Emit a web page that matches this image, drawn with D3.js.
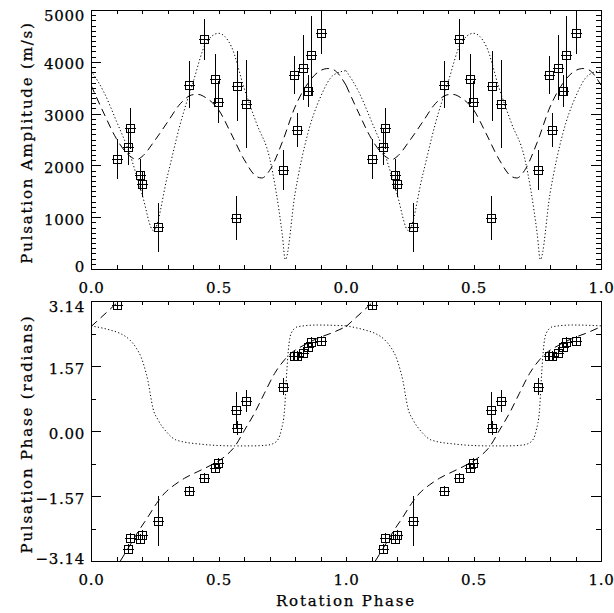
<!DOCTYPE html>
<html>
<head>
<meta charset="utf-8">
<script src="https://cdn.jsdelivr.net/npm/d3@7"></script>
<style>
  body { margin: 0; background: #fff; }
  svg { display: block; }
  text { font-family: "DejaVu Serif", serif; fill: #000; stroke: #000; stroke-width: 0.25px; }
  .tick text { font-size: 15px; letter-spacing: 0.7px; }
  .title { font-size: 15px; letter-spacing: 1.8px; }
  .domain, .tick line { stroke: #000; stroke-width: 1; }
</style>
</head>
<body>
<div id="chart"></div>
<script>
width = 614;
height = 613;

// observations over one rotation (plotted twice, phase and phase + 1)
var obsPhase = [0.100, 0.146, 0.152, 0.194, 0.200, 0.263, 0.386, 0.443, 0.486, 0.499,
                0.571, 0.567, 0.607, 0.751, 0.796, 0.806, 0.830, 0.850, 0.863, 0.902];
var ampObs = [2126, 2364, 2719, 1816, 1641, 808, 3560, 4438, 3663, 3223,
              3533, 988, 3184, 1913, 3746, 2688, 3882, 3430, 4122, 4548];
var ampErr = [382, 350, 395, 300, 260, 475, 455, 397, 484, 400,
              668, 430, 853, 390, 360, 330, 627, 310, 760, 394];
var phaseObs = [3.04, -2.85, -2.59, -2.62, -2.51, -2.17, -1.46, -1.13, -0.89, -0.77,
                0.07, 0.51, 0.73, 1.07, 1.82, 1.82, 1.88, 2.04, 2.15, 2.18];
var phaseErr = [0.06, 0.08, 0.06, 0.08, 0.08, 0.61, 0.08, 0.06, 0.08, 0.08,
                0.16, 0.44, 0.27, 0.20, 0.06, 0.06, 0.08, 0.06, 0.10, 0.06];

// model curves (dotted and dashed)
var ampDotPhase = [0, 0.05, 0.10, 0.15, 0.20, 0.245, 0.30, 0.35, 0.40, 0.45, 0.50,
                   0.55, 0.60, 0.65, 0.70, 0.75, 0.762, 0.80, 0.85, 0.90, 0.95, 1.0];
var ampDot = [3830, 3420, 2850, 2250, 1450, 740, 1800, 2800, 3600, 4350, 4550,
              4300, 3500, 2800, 2150, 670, 180, 1450, 2610, 3320, 3740, 3830];
var ampDashPhase = [0, 0.05, 0.10, 0.15, 0.18, 0.20, 0.25, 0.30, 0.35, 0.40, 0.42, 0.45, 0.50,
                    0.55, 0.60, 0.65, 0.67, 0.70, 0.75, 0.80, 0.85, 0.90, 0.93, 0.95, 1.0];
var ampDash = [3550, 3010, 2513, 2190, 2112, 2170, 2480, 2835, 3190, 3365, 3370, 3308, 3075,
               2610, 2118, 1783, 1757, 1900, 2448, 3126, 3580, 3831, 3870, 3850, 3550];

var phDotPhase = [0, 0.074, 0.113, 0.152, 0.178, 0.198, 0.211, 0.224, 0.233, 0.243, 0.263, 0.296,
                  0.335, 0.433, 0.498, 0.563, 0.628, 0.693, 0.726, 0.746, 0.759, 0.765, 0.774,
                  0.785, 0.811, 0.889, 1.0];
var phDot = [2.54, 2.44, 2.36, 2.20, 2.00, 1.76, 1.51, 1.19, 0.87, 0.55, 0.27, -0.02,
             -0.22, -0.32, -0.35, -0.36, -0.36, -0.34, -0.26, 0.02, 0.51, 1.15, 1.96,
             2.36, 2.52, 2.56, 2.54];
var phDashHeadPhase = [0, 0.11];
var phDashHead = [2.52, 3.14];
var phDashPhase = [0.115, 0.146, 0.185, 0.224, 0.257, 0.289, 0.328, 0.367, 0.419, 0.472, 0.524,
                   0.563, 0.602, 0.641, 0.680, 0.720, 0.759, 0.785, 0.837, 0.889, 0.941, 1.0];
var phDash = [-3.14, -2.83, -2.43, -2.07, -1.75, -1.50, -1.30, -1.14, -0.98, -0.82, -0.62,
              -0.38, 0.02, 0.43, 0.91, 1.39, 1.72, 1.88, 2.08, 2.24, 2.36, 2.52];

var periods = [0, 1];

// axes
var xMajor = [0, 0.5, 1, 1.5, 2];
var topXLabels = ["0.0", "0.5", "0.0", "0.5", "1.0"];
var botXLabels = ["0.0", "0.5", "1.0", "0.5", "1.0"];
var ampTicks = [0, 1000, 2000, 3000, 4000, 5000];
var ampLabels = ["0", "1000", "2000", "3000", "4000", "5000"];
var radTicks = [-3.14, -1.57, 0, 1.57, 3.14];
var radLabels = ["\u22123.14", "\u22121.57", "0.00", "1.57", "3.14"];
var radMinor = [-2.355, -0.785, 0.785, 2.355];

var L = 91, R = 601;
var panels = [
    {top: 10, bottom: 269, domain: [0, 5000], ticks: ampTicks, labels: ampLabels,
     minor: d3.range(0, 5001, 100), xLabels: topXLabels, title: "Pulsation Amplitude (m/s)"},
    {top: 301, bottom: 561, domain: [-3.14, 3.14], ticks: radTicks, labels: radLabels,
     minor: radMinor, xLabels: botXLabels, title: "Pulsation Phase (radians)"}
];

var svg = d3.select("#chart").append("svg")
    .attr("width", width)
    .attr("height", height);

var x = d3.scaleLinear().domain([0, 2]).range([L, R]);
var xMinor = d3.range(0, 2.001, 0.1);

function pairs(ph, vals, k) {
    return ph.map((p, i) => [p + k, vals[i]]);
}

panels.forEach(function(p, pi) {
    var y = d3.scaleLinear().domain(p.domain).range([p.bottom, p.top]);
    var g = svg.append("g");

    svg.append("clipPath").attr("id", "clip" + pi)
        .append("rect")
        .attr("x", L).attr("y", p.top)
        .attr("width", R - L + 1).attr("height", p.bottom - p.top + 1);

    // frame + ticks
    g.append("g").attr("transform", "translate(0," + p.bottom + ")")
        .call(d3.axisBottom(x).tickValues(xMinor).tickSize(-4).tickSizeOuter(0).tickFormat(""));
    var xa = g.append("g").attr("transform", "translate(0," + p.bottom + ")")
        .call(d3.axisBottom(x).tickValues(xMajor).tickSize(-4).tickSizeOuter(0)
            .tickFormat((d, i) => p.xLabels[i]));
    xa.selectAll("text").attr("y", pi == 0 ? 18.5 : 19).attr("dy", "0.36em");
    g.append("g").attr("transform", "translate(0," + p.top + ")")
        .call(d3.axisTop(x).tickValues(xMinor).tickSize(-4).tickSizeOuter(0).tickFormat(""));

    g.append("g").attr("transform", "translate(" + L + ",0)")
        .call(d3.axisLeft(y).tickValues(p.minor).tickSize(-5).tickSizeOuter(0).tickFormat(""));
    var ya = g.append("g").attr("transform", "translate(" + L + ",0)")
        .call(d3.axisLeft(y).tickValues(p.ticks).tickSize(-10).tickSizeOuter(0).tickPadding(6)
            .tickFormat((d, i) => p.labels[i]));
    ya.selectAll("text").attr("dy", "0.47em")
        .attr("transform", (d, i) => i == 0 ? "translate(0,-4.5)" : (i == p.ticks.length - 1 ? "translate(0,3.5)" : null));
    g.append("g").attr("transform", "translate(" + R + ",0)")
        .call(d3.axisRight(y).tickValues(p.minor).tickSize(-5).tickSizeOuter(0).tickFormat(""));
    g.append("g").attr("transform", "translate(" + R + ",0)")
        .call(d3.axisRight(y).tickValues(p.ticks).tickSize(-10).tickSizeOuter(0).tickFormat(""));

    g.selectAll(".domain, .tick line").attr("shape-rendering", "crispEdges");

    // y title
    svg.append("text")
        .attr("class", "title")
        .attr("text-anchor", "middle")
        .attr("transform", "translate(31.5," + ((p.top + p.bottom) / 2 + 3) + ") rotate(-90)")
        .text(p.title);

    var plot = svg.append("g").attr("clip-path", "url(#clip" + pi + ")");

    var line = d3.line()
        .x(d => x(d[0]))
        .y(d => y(d[1]))
        .curve(d3.curveMonotoneX);

    var curves;
    if (pi == 0) {
        curves = [
            {ph: ampDotPhase, v: ampDot, dash: "1.2,2.3"},
            {ph: ampDashPhase, v: ampDash, dash: "8,5"}
        ];
    } else {
        curves = [
            {ph: phDotPhase, v: phDot, dash: "1.2,2.3"},
            {ph: phDashHeadPhase, v: phDashHead, dash: "8,5"},
            {ph: phDashPhase, v: phDash, dash: "8,5"}
        ];
    }
    periods.forEach(function(k) {
        curves.forEach(function(c) {
            plot.append("path")
                .attr("d", line(pairs(c.ph, c.v, k)))
                .attr("fill", "none")
                .attr("stroke", "#000")
                .attr("stroke-width", 1)
                .attr("stroke-dasharray", c.dash);
        });
    });

    // observed points with error bars
    var vals = pi == 0 ? ampObs : phaseObs;
    var errs = pi == 0 ? ampErr : phaseErr;
    var pts = [];
    periods.forEach(function(k) {
        obsPhase.forEach(function(ph, i) {
            pts.push({ph: ph + k, v: vals[i], e: errs[i]});
        });
    });

    var mk = plot.selectAll("g.pt")
        .data(pts)
        .enter()
        .append("g")
        .attr("class", "pt")
        .attr("shape-rendering", "crispEdges")
        .attr("stroke", "#000")
        .attr("stroke-width", 1)
        .attr("fill", "none");

    mk.append("line")
        .attr("x1", d => Math.round(x(d.ph)) + 0.5)
        .attr("x2", d => Math.round(x(d.ph)) + 0.5)
        .attr("y1", d => Math.min(y(d.v + d.e), y(d.v) - 5))
        .attr("y2", d => Math.max(y(d.v - d.e), y(d.v) + 5));
    mk.append("line")
        .attr("x1", d => Math.round(x(d.ph)) - 5)
        .attr("x2", d => Math.round(x(d.ph)) + 6)
        .attr("y1", d => Math.round(y(d.v)) + 0.5)
        .attr("y2", d => Math.round(y(d.v)) + 0.5);
    mk.append("rect")
        .attr("x", d => Math.round(x(d.ph)) - 3.5)
        .attr("y", d => Math.round(y(d.v)) - 3.5)
        .attr("width", 8)
        .attr("height", 8);
});

svg.append("text")
    .attr("class", "title")
    .attr("text-anchor", "middle")
    .attr("x", (L + R) / 2)
    .attr("y", 606)
    .text("Rotation Phase");
</script>
</body>
</html>
